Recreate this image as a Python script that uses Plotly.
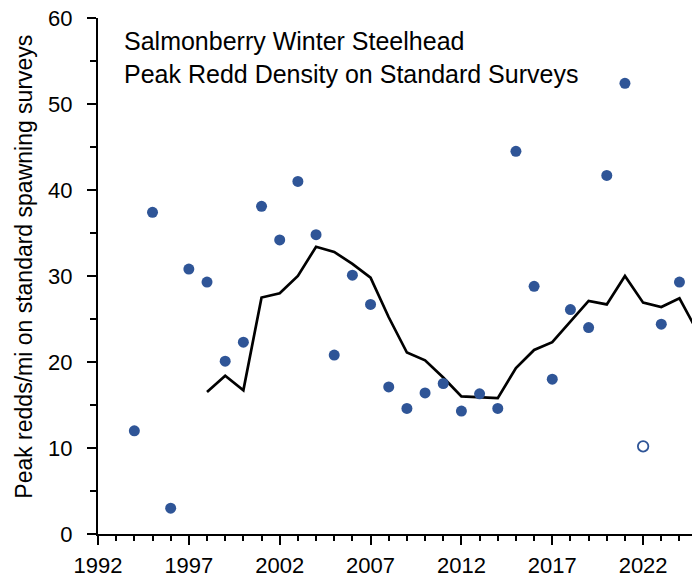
import plotly.graph_objects as go

years = list(range(1994, 2025))
redds = [12.0, 37.4, 3.0, 30.8, 29.3, 20.1, 22.3, 38.1, 34.2, 41.0, 34.8, 20.8, 30.1, 26.7,
         17.1, 14.6, 16.4, 17.5, 14.3, 16.3, 14.6, 44.5, 28.8, 18.0, 26.1, 24.0, 41.7, 52.4,
         None, 24.4, 29.3]
hollow_years = [2022]
hollow_values = [10.2]

avg_years = list(range(1998, 2026))
avg_values = [16.5, 18.4, 16.7, 27.5, 28.0, 30.0, 33.4, 32.8, 31.4, 29.8, 25.2, 21.1, 20.2,
              18.2, 16.0, 15.9, 15.8, 19.3, 21.4, 22.3, 24.7, 27.1, 26.7, 30.0, 26.9, 26.4,
              27.4, 23.5]

x_ticks = [1992, 1997, 2002, 2007, 2012, 2017, 2022]
y_ticks = [0, 10, 20, 30, 40, 50, 60]

blue = "#2F5597"
font_family = "Liberation Sans, Arial, sans-serif"

fig = go.Figure()
fig.add_trace(go.Scatter(x=avg_years, y=avg_values, mode="lines",
                         line=dict(color="black", width=2.7),
                         showlegend=False, hoverinfo="skip"))
fig.add_trace(go.Scatter(x=years, y=redds, mode="markers",
                         marker=dict(color=blue, size=11, line=dict(width=0)),
                         showlegend=False))
fig.add_trace(go.Scatter(x=hollow_years, y=hollow_values, mode="markers",
                         marker=dict(color="white", size=10.5, line=dict(color=blue, width=1.8)),
                         showlegend=False))

fig.add_annotation(x=0.0405, y=1.0, xref="paper", yref="paper", xanchor="left", yanchor="top",
                   yshift=-7, align="left", showarrow=False,
                   text="Salmonberry Winter Steelhead<br>Peak Redd Density on Standard Surveys",
                   font=dict(family=font_family, size=25, color="black"))

fig.add_annotation(x=0, y=0.518, xref="paper", yref="paper", xanchor="center", yanchor="middle",
                   xshift=-74, textangle=-90, showarrow=False,
                   text="Peak redds/mi on standard spawning surveys",
                   font=dict(family=font_family, size=23, color="black"))

fig.update_layout(
    width=692, height=577,
    margin=dict(l=98, r=0, t=18, b=43),
    plot_bgcolor="white", paper_bgcolor="white",
    font=dict(family=font_family, size=22, color="black"),
    showlegend=False,
)
fig.update_xaxes(range=[1992, 2024.69], tickvals=x_ticks, ticktext=[str(v) for v in x_ticks],
                 showgrid=False, zeroline=False, showline=True, linecolor="black", linewidth=2,
                 ticks="outside", ticklen=9, tickwidth=2, tickcolor="black",
                 minor=dict(dtick=1, tick0=1992, ticks="outside", ticklen=5, tickwidth=2,
                            tickcolor="black", showgrid=False),
                 tickfont=dict(size=22), ticklabelstandoff=2, automargin=False,
                 ticklabeloverflow="allow")
fig.update_yaxes(range=[0, 60], tickvals=y_ticks,
                 showgrid=False, zeroline=False, showline=True, linecolor="black", linewidth=2,
                 ticks="outside", ticklen=9, tickwidth=2, tickcolor="black",
                 minor=dict(dtick=5, tick0=0, ticks="outside", ticklen=6, tickwidth=2,
                            tickcolor="black", showgrid=False),
                 tickfont=dict(size=22), ticklabelstandoff=10, automargin=False,
                 ticklabeloverflow="allow")

fig.write_html("out.html", config={"displayModeBar": False},
               post_script="document.body.style.margin='0';document.body.style.overflow='hidden';")
